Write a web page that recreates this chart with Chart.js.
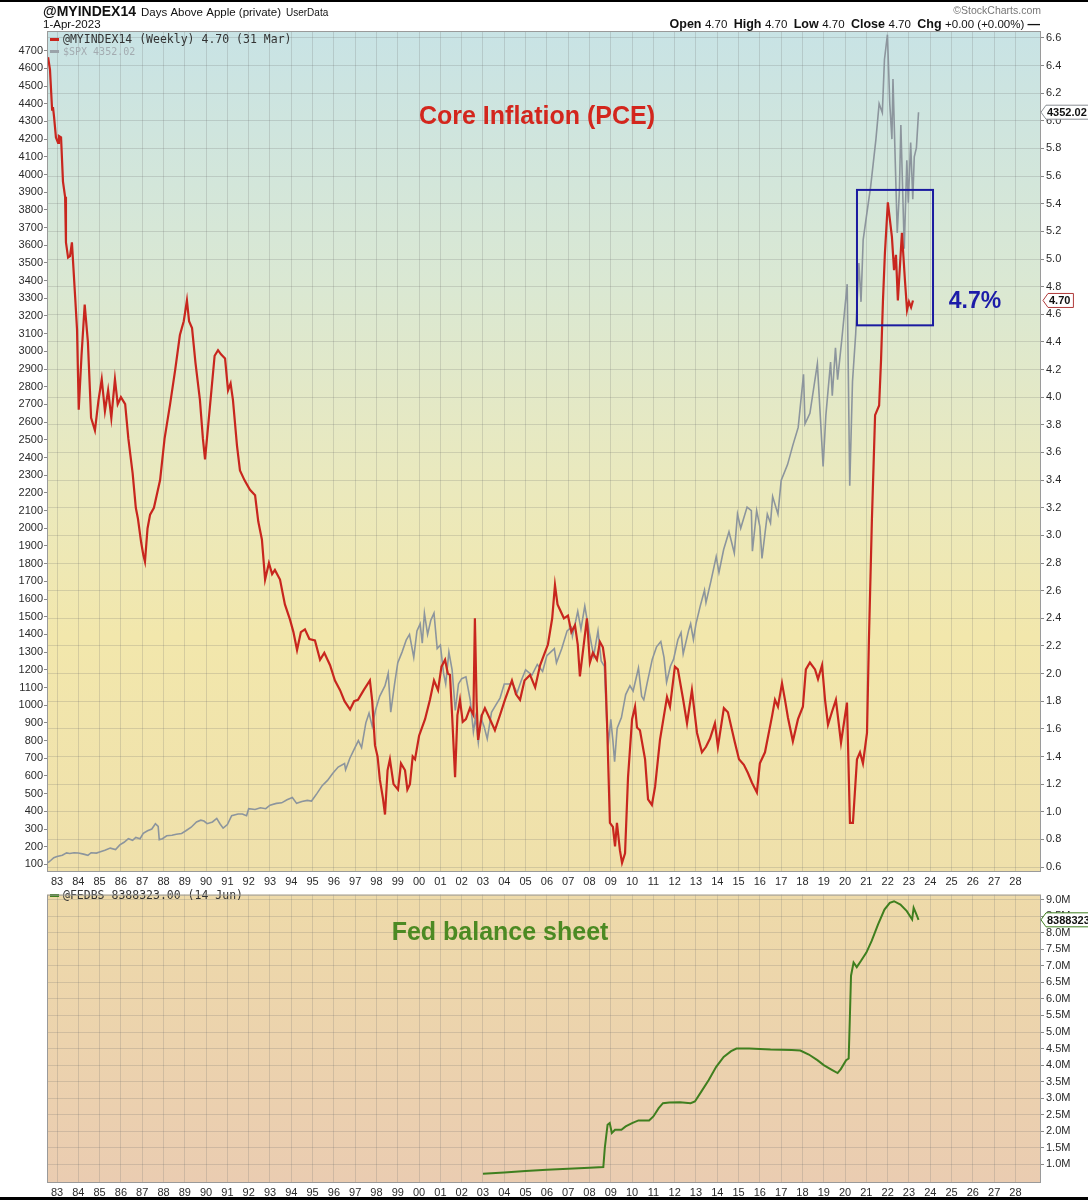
<!DOCTYPE html>
<html>
<head>
<meta charset="utf-8">
<script src="https://cdn.jsdelivr.net/npm/chart.js@4.4.1/dist/chart.umd.min.js"></script>
<style>
  body { margin: 0; background: #fff; width: 1088px; height: 1200px; position: relative; overflow: hidden; }
  canvas { position: absolute; left: 0; }
  #topo { top: 0; }
  #baixo { top: 886px; }
  .barra { position: absolute; left: 0; width: 1088px; background: #000; }
</style>
</head>
<body>
<canvas id="topo" width="1088" height="886"></canvas>
<canvas id="baixo" width="1088" height="314"></canvas>
<div class="barra" style="top:0;height:2px"></div>
<div class="barra" style="top:1197px;height:3px"></div>
<script>
// rotulos do eixo x (ano 1983 em diante)
var rotulosAnos = ['83','84','85','86','87','88','89','90','91','92','93','94','95','96','97','98','99','00',
  '01','02','03','04','05','06','07','08','09','10','11','12','13','14','15','16','17','18','19','20',
  '21','22','23','24','25','26','27','28'];

var ticksSpx = [100,200,300,400,500,600,700,800,900,1000,1100,1200,1300,1400,1500,1600,1700,1800,1900,2000,
  2100,2200,2300,2400,2500,2600,2700,2800,2900,3000,3100,3200,3300,3400,3500,3600,3700,3800,3900,4000,
  4100,4200,4300,4400,4500,4600,4700];
var ticksInflacao = [0.6,0.8,1.0,1.2,1.4,1.6,1.8,2.0,2.2,2.4,2.6,2.8,3.0,3.2,3.4,3.6,3.8,4.0,4.2,4.4,4.6,
  4.8,5.0,5.2,5.4,5.6,5.8,6.0,6.2,6.4,6.6];
var ticksFed = [1.0,1.5,2.0,2.5,3.0,3.5,4.0,4.5,5.0,5.5,6.0,6.5,7.0,7.5,8.0,8.5,9.0];

// @MYINDEX14 (core PCE) - [ano, valor]
var inflacao = [
  [1982.58,6.46],[1982.67,6.37],[1982.77,6.08],[1982.81,6.10],[1982.86,6.03],[1982.95,5.88],[1983.05,5.84],
  [1983.09,5.89],[1983.19,5.88],[1983.28,5.56],[1983.38,5.45],[1983.42,5.12],[1983.52,5.01],[1983.61,5.02],
  [1983.70,5.12],[1983.85,4.73],[1983.94,4.49],[1984.02,3.91],[1984.15,4.30],[1984.30,4.67],[1984.45,4.40],
  [1984.60,3.85],[1984.78,3.76],[1984.95,3.98],[1985.10,4.13],[1985.25,3.90],[1985.40,4.05],[1985.55,3.85],
  [1985.72,4.13],[1985.85,3.95],[1986.00,4.00],[1986.20,3.95],[1986.35,3.70],[1986.55,3.45],[1986.70,3.20],
  [1986.80,3.12],[1986.95,2.95],[1987.05,2.86],[1987.13,2.81],[1987.25,3.05],[1987.37,3.15],[1987.55,3.20],
  [1987.84,3.40],[1988.05,3.70],[1988.31,3.95],[1988.55,4.20],[1988.77,4.45],[1988.95,4.55],[1989.10,4.70],
  [1989.20,4.55],[1989.34,4.50],[1989.50,4.25],[1989.71,3.98],[1989.85,3.70],[1989.95,3.55],[1990.10,3.80],
  [1990.25,4.05],[1990.40,4.30],[1990.56,4.34],[1990.70,4.31],[1990.89,4.28],[1991.03,4.05],[1991.15,4.10],
  [1991.26,3.98],[1991.45,3.65],[1991.59,3.47],[1991.80,3.40],[1992.06,3.33],[1992.30,3.29],[1992.45,3.10],
  [1992.62,2.97],[1992.77,2.68],[1992.95,2.80],[1993.10,2.72],[1993.23,2.75],[1993.47,2.68],[1993.70,2.50],
  [1993.94,2.39],[1994.10,2.30],[1994.27,2.17],[1994.45,2.30],[1994.64,2.32],[1994.85,2.25],[1995.11,2.24],
  [1995.35,2.10],[1995.55,2.15],[1995.82,2.06],[1996.05,1.95],[1996.29,1.88],[1996.50,1.80],[1996.76,1.74],
  [1996.95,1.80],[1997.13,1.81],[1997.40,1.88],[1997.69,1.95],[1997.80,1.80],[1997.93,1.48],[1998.05,1.40],
  [1998.16,1.23],[1998.30,1.10],[1998.40,0.98],[1998.52,1.30],[1998.63,1.38],[1998.80,1.20],[1999.01,1.16],
  [1999.15,1.35],[1999.34,1.30],[1999.45,1.16],[1999.57,1.20],[1999.70,1.40],[1999.81,1.38],[2000.00,1.55],
  [2000.28,1.67],[2000.51,1.81],[2000.70,1.95],[2000.89,1.88],[2001.05,2.05],[2001.22,2.10],[2001.35,2.00],
  [2001.45,1.99],[2001.55,1.70],[2001.69,1.25],[2001.80,1.70],[2001.92,1.81],[2002.05,1.65],[2002.20,1.67],
  [2002.39,1.75],[2002.55,1.70],[2002.62,2.40],[2002.70,1.80],[2002.77,1.52],[2002.95,1.70],[2003.09,1.75],
  [2003.33,1.67],[2003.56,1.59],[2003.80,1.70],[2004.03,1.81],[2004.36,1.95],[2004.55,1.85],[2004.74,1.81],
  [2004.95,1.95],[2005.21,1.99],[2005.45,1.90],[2005.68,2.06],[2005.90,2.15],[2006.05,2.21],[2006.25,2.40],
  [2006.38,2.64],[2006.50,2.50],[2006.62,2.46],[2006.80,2.40],[2006.99,2.42],[2007.15,2.30],[2007.32,2.35],
  [2007.45,2.21],[2007.55,1.98],[2007.88,2.40],[2008.02,2.08],[2008.16,2.15],[2008.35,2.10],[2008.49,2.23],
  [2008.63,2.19],[2008.73,2.08],[2008.82,1.67],[2008.96,0.92],[2009.10,0.89],[2009.20,0.75],[2009.29,0.92],
  [2009.43,0.72],[2009.53,0.63],[2009.67,0.70],[2009.81,1.25],[2010.00,1.67],[2010.14,1.76],[2010.23,1.61],
  [2010.37,1.59],[2010.61,1.38],[2010.75,1.09],[2010.93,1.05],[2011.08,1.18],[2011.31,1.52],[2011.64,1.83],
  [2011.78,1.76],[2012.01,2.05],[2012.15,2.03],[2012.39,1.82],[2012.58,1.64],[2012.81,1.88],[2013.05,1.57],
  [2013.28,1.43],[2013.47,1.47],[2013.66,1.53],[2013.89,1.64],[2014.03,1.47],[2014.31,1.75],[2014.50,1.72],
  [2014.83,1.50],[2015.02,1.38],[2015.25,1.34],[2015.44,1.28],[2015.63,1.21],[2015.86,1.14],[2016.00,1.35],
  [2016.24,1.43],[2016.57,1.69],[2016.71,1.81],[2016.85,1.76],[2017.04,1.93],[2017.18,1.81],[2017.32,1.68],
  [2017.55,1.51],[2017.79,1.67],[2018.02,1.76],[2018.16,2.03],[2018.35,2.08],[2018.59,2.03],[2018.73,1.96],
  [2018.92,2.06],[2019.06,1.81],[2019.20,1.63],[2019.38,1.72],[2019.57,1.81],[2019.81,1.50],[2020.09,1.79],
  [2020.23,0.92],[2020.37,0.92],[2020.56,1.38],[2020.70,1.43],[2020.84,1.35],[2021.03,1.57],[2021.12,2.24],
  [2021.26,3.11],[2021.41,3.87],[2021.60,3.94],[2021.69,4.27],[2021.78,4.70],[2021.87,5.04],[2022.01,5.41],
  [2022.20,5.16],[2022.30,4.92],[2022.39,5.03],[2022.48,4.70],[2022.67,5.19],[2022.81,4.85],[2022.91,4.63],
  [2023.00,4.69],[2023.10,4.65],[2023.19,4.70]
];

// $SPX
var spx = [
  [1982.58,110],[1982.70,122],[1982.85,138],[1983.00,145],[1983.25,152],[1983.45,165],[1983.60,162],[1983.80,166],
  [1984.00,164],[1984.25,158],[1984.45,151],[1984.60,166],[1984.85,164],[1985.00,170],[1985.25,180],[1985.50,192],
  [1985.75,184],[1985.95,210],[1986.15,225],[1986.35,245],[1986.55,236],[1986.70,252],[1986.90,245],[1987.05,275],
  [1987.25,290],[1987.45,300],[1987.62,330],[1987.75,315],[1987.80,240],[1987.95,245],[1988.15,262],[1988.40,265],
  [1988.60,270],[1988.85,275],[1989.05,290],[1989.30,310],[1989.55,340],[1989.75,350],[1989.90,345],[1990.05,330],
  [1990.30,340],[1990.50,360],[1990.65,330],[1990.80,305],[1991.00,325],[1991.20,375],[1991.50,385],[1991.70,385],
  [1991.90,375],[1992.00,415],[1992.30,410],[1992.55,420],[1992.80,415],[1993.00,435],[1993.30,445],[1993.55,448],
  [1993.80,465],[1994.05,478],[1994.25,445],[1994.50,455],[1994.75,462],[1994.95,458],[1995.20,500],[1995.45,545],
  [1995.70,575],[1995.95,615],[1996.20,650],[1996.50,670],[1996.55,635],[1996.75,700],[1996.95,750],[1997.15,800],
  [1997.30,760],[1997.50,900],[1997.65,955],[1997.80,880],[1997.95,970],[1998.15,1050],[1998.40,1110],[1998.55,1180],
  [1998.67,960],[1998.85,1120],[1999.00,1240],[1999.20,1300],[1999.40,1370],[1999.55,1400],[1999.75,1270],
  [1999.90,1420],[2000.05,1460],[2000.15,1350],[2000.25,1520],[2000.40,1400],[2000.55,1480],[2000.70,1520],
  [2000.85,1320],[2001.00,1340],[2001.15,1180],[2001.25,1120],[2001.40,1300],[2001.55,1200],[2001.70,970],
  [2001.85,1120],[2002.00,1150],[2002.20,1160],[2002.40,1030],[2002.55,850],[2002.65,930],[2002.78,790],
  [2002.90,930],[2003.05,880],[2003.20,810],[2003.40,960],[2003.60,1000],[2003.80,1040],[2004.00,1120],
  [2004.20,1120],[2004.40,1120],[2004.60,1070],[2004.80,1140],[2005.00,1200],[2005.30,1170],[2005.55,1230],
  [2005.80,1190],[2006.00,1280],[2006.35,1320],[2006.45,1240],[2006.70,1320],[2006.95,1420],[2007.15,1440],
  [2007.20,1390],[2007.45,1530],[2007.60,1430],[2007.78,1560],[2007.95,1440],[2008.10,1340],[2008.20,1280],
  [2008.40,1420],[2008.55,1250],[2008.70,1220],[2008.82,880],[2008.90,800],[2009.00,920],[2009.10,800],
  [2009.18,680],[2009.30,870],[2009.50,930],[2009.70,1060],[2009.90,1110],[2010.05,1080],[2010.30,1210],
  [2010.45,1050],[2010.55,1030],[2010.70,1120],[2010.95,1260],[2011.15,1330],[2011.35,1360],[2011.50,1270],
  [2011.62,1130],[2011.80,1220],[2011.95,1260],[2012.15,1370],[2012.30,1410],[2012.40,1290],[2012.65,1420],
  [2012.75,1460],[2012.88,1370],[2013.00,1460],[2013.20,1560],[2013.40,1650],[2013.47,1580],[2013.70,1700],
  [2013.95,1840],[2014.08,1750],[2014.30,1880],[2014.55,1980],[2014.80,1860],[2014.95,2080],[2015.10,2000],
  [2015.40,2120],[2015.60,2100],[2015.65,1870],[2015.85,2100],[2016.00,2010],[2016.10,1830],[2016.35,2080],
  [2016.50,2030],[2016.60,2180],[2016.85,2080],[2017.00,2270],[2017.30,2360],[2017.55,2470],[2017.80,2570],
  [2018.05,2870],[2018.12,2590],[2018.35,2650],[2018.70,2930],[2018.97,2350],[2019.10,2640],[2019.32,2940],
  [2019.40,2750],[2019.55,3020],[2019.65,2840],[2019.85,3070],[2020.10,3380],[2020.22,2240],[2020.35,2830],
  [2020.50,3100],[2020.65,3500],[2020.75,3280],[2020.85,3630],[2021.00,3760],[2021.20,3930],[2021.45,4200],
  [2021.60,4400],[2021.75,4350],[2021.85,4650],[2021.99,4790],[2022.10,4400],[2022.20,4200],[2022.25,4540],
  [2022.45,3670],[2022.55,3900],[2022.62,4280],[2022.78,3580],[2022.90,4080],[2022.97,3840],[2023.08,4180],
  [2023.18,3860],[2023.25,4100],[2023.35,4150],[2023.45,4352]
];

// @FEDBS em milhoes (M)
var fed = [
  [2003.00,0.72],[2004.00,0.76],[2005.00,0.80],[2006.00,0.84],[2007.00,0.87],[2008.00,0.90],[2008.65,0.92],
  [2008.72,1.50],[2008.85,2.20],[2008.95,2.25],[2009.05,1.95],[2009.20,2.05],[2009.50,2.05],[2009.70,2.15],
  [2010.00,2.25],[2010.30,2.33],[2010.80,2.33],[2011.00,2.45],[2011.25,2.70],[2011.45,2.85],[2011.75,2.87],
  [2012.25,2.88],[2012.75,2.85],[2012.95,2.90],[2013.25,3.20],[2013.60,3.55],[2013.95,3.95],[2014.30,4.25],
  [2014.65,4.42],[2014.90,4.50],[2015.50,4.50],[2016.50,4.47],[2017.50,4.46],[2017.90,4.44],[2018.30,4.32],
  [2018.70,4.15],[2019.00,4.00],[2019.40,3.85],[2019.65,3.76],[2019.80,3.88],[2020.05,4.15],[2020.17,4.20],
  [2020.22,5.30],[2020.28,6.70],[2020.40,7.10],[2020.55,6.96],[2020.75,7.15],[2021.00,7.40],[2021.25,7.75],
  [2021.55,8.25],[2021.85,8.70],[2022.10,8.90],[2022.30,8.95],[2022.60,8.85],[2022.90,8.65],[2023.15,8.40],
  [2023.22,8.75],[2023.35,8.55],[2023.45,8.39]
];

// caixa azul em volta do pico recente (unidades de dados)
var caixaDestaque = { x0: 2020.56, x1: 2024.13, y0: 4.52, y1: 5.50 };

var fonte = '"Liberation Sans", Arial, sans-serif';
var mono = '"DejaVu Sans Mono", monospace';
var corGrade = 'rgba(110,110,110,0.22)';

Chart.defaults.font.family = fonte;
Chart.defaults.font.size = 11;
Chart.defaults.color = '#2a2a2a';

function pontos(lista) {
  return lista.map(function (p) { return { x: p[0], y: p[1] }; });
}

function eixoAnos(altura) {
  return {
    type: 'linear', min: 1982.53, max: 2029.2,
    afterBuildTicks: function (s) {
      s.ticks = rotulosAnos.map(function (r, i) { return { value: 1983 + i }; });
    },
    afterFit: function (s) { s.height = altura; },
    grid: { color: corGrade, drawTicks: false },
    border: { display: false },
    ticks: {
      autoSkip: false, maxRotation: 0, padding: 3,
      callback: function (v, i) { return rotulosAnos[i]; }
    }
  };
}

function fundo(ctx, area, cores) {
  var g = ctx.createLinearGradient(0, area.top, 0, area.bottom);
  cores.forEach(function (c) { g.addColorStop(c[0], c[1]); });
  ctx.fillStyle = g;
  ctx.fillRect(area.left, area.top, area.right - area.left, area.bottom - area.top);
}

function moldura(ctx, area) {
  ctx.strokeStyle = '#9a9a9a';
  ctx.lineWidth = 1;
  ctx.strokeRect(area.left + 0.5, area.top + 0.5, area.right - area.left - 1, area.bottom - area.top - 1);
}

function caixaValor(ctx, x0, y, texto, borda) {
  ctx.font = 'bold 11px ' + fonte;
  var w = ctx.measureText(texto).width;
  var x1 = x0 + 7 + w + 2;
  ctx.beginPath();
  ctx.moveTo(x0, y);
  ctx.lineTo(x0 + 5, y - 7);
  ctx.lineTo(x1, y - 7);
  ctx.lineTo(x1, y + 7);
  ctx.lineTo(x0 + 5, y + 7);
  ctx.closePath();
  ctx.fillStyle = '#fff';
  ctx.fill();
  ctx.strokeStyle = borda;
  ctx.lineWidth = 1;
  ctx.stroke();
  ctx.fillStyle = '#111';
  ctx.textBaseline = 'middle';
  ctx.textAlign = 'left';
  ctx.fillText(texto, x0 + 6, y + 1);
}

function legenda(ctx, x, y, cor, texto, corTexto, tamanho) {
  ctx.fillStyle = cor;
  ctx.fillRect(x, y - 5, 9, 3);
  ctx.fillStyle = corTexto;
  ctx.font = tamanho + 'px ' + mono;
  ctx.textBaseline = 'alphabetic';
  ctx.textAlign = 'left';
  ctx.fillText(texto, x + 13, y);
}

var pluginTopo = {
  id: 'pluginTopo',
  beforeDraw: function (chart) {
    var ctx = chart.ctx;
    ctx.save();
    fundo(ctx, chart.chartArea, [[0, '#c8e3e5'], [0.3, '#dae8d3'], [0.55, '#ebe9bc'], [0.72, '#f2e7ac'], [1, '#efe0ab']]);
    ctx.restore();
  },
  afterDatasetsDraw: function (chart) {
    var ctx = chart.ctx;
    var sx = chart.scales.x, sy = chart.scales.yR;
    ctx.save();
    // caixa azul
    var bx0 = sx.getPixelForValue(caixaDestaque.x0), bx1 = sx.getPixelForValue(caixaDestaque.x1);
    var by0 = sy.getPixelForValue(caixaDestaque.y1), by1 = sy.getPixelForValue(caixaDestaque.y0);
    ctx.strokeStyle = '#1b1ba0';
    ctx.lineWidth = 2;
    ctx.strokeRect(bx0, by0, bx1 - bx0, by1 - by0);

    ctx.textBaseline = 'alphabetic';
    ctx.textAlign = 'center';
    ctx.fillStyle = '#d3261d';
    ctx.font = 'bold 25px ' + fonte;
    ctx.fillText('Core Inflation (PCE)', 537, 124);

    ctx.fillStyle = '#1c1ca8';
    ctx.font = 'bold 23px ' + fonte;
    ctx.fillText('4.7%', 975, 308);

    legenda(ctx, 50, 43, '#c8261e', '@MYINDEX14 (Weekly) 4.70 (31 Mar)', '#333', 11.5);
    legenda(ctx, 50, 55, '#9aa3aa', '$SPX 4352.02', '#a3abb0', 10);
    ctx.restore();
  },
  afterDraw: function (chart) {
    var ctx = chart.ctx;
    ctx.save();
    moldura(ctx, chart.chartArea);

    // cabecalho
    ctx.textBaseline = 'alphabetic';
    ctx.textAlign = 'left';
    ctx.fillStyle = '#111';
    ctx.font = 'bold 14px ' + fonte;
    ctx.fillText('@MYINDEX14', 43, 16);
    var x = 43 + ctx.measureText('@MYINDEX14').width + 5;
    ctx.font = '11.5px ' + fonte;
    ctx.fillText('Days Above Apple (private)', x, 16);
    x += ctx.measureText('Days Above Apple (private)').width + 5;
    ctx.font = '10px ' + fonte;
    ctx.fillText('UserData', x, 16);
    ctx.font = '11.5px ' + fonte;
    ctx.fillText('1-Apr-2023', 43, 28);

    ctx.textAlign = 'right';
    ctx.fillStyle = '#777';
    ctx.font = '10.5px ' + fonte;
    ctx.fillText('\u00A9StockCharts.com', 1041, 14);

    var partes = [['Open ', 1], ['4.70  ', 0], ['High ', 1], ['4.70  ', 0], ['Low ', 1], ['4.70  ', 0],
      ['Close ', 1], ['4.70  ', 0], ['Chg ', 1], ['+0.00 (+0.00%) ', 0], ['\u2014', 1]];
    var total = 0;
    partes.forEach(function (p) {
      ctx.font = (p[1] ? 'bold 12.5px ' : '11.5px ') + fonte;
      total += ctx.measureText(p[0]).width;
    });
    ctx.textAlign = 'left';
    ctx.fillStyle = '#111';
    var px = 1040 - total;
    partes.forEach(function (p) {
      ctx.font = (p[1] ? 'bold 12.5px ' : '11.5px ') + fonte;
      ctx.fillText(p[0], px, 28);
      px += ctx.measureText(p[0]).width;
    });

    caixaValor(ctx, 1041, chart.scales.yL.getPixelForValue(4352.02), '4352.02', '#8a8f94');
    caixaValor(ctx, 1043, chart.scales.yR.getPixelForValue(4.70), '4.70', '#b03a3a');
    ctx.restore();
  }
};

var pluginBaixo = {
  id: 'pluginBaixo',
  beforeDraw: function (chart) {
    var ctx = chart.ctx;
    ctx.save();
    fundo(ctx, chart.chartArea, [[0, '#eedaa9'], [1, '#eaccb1']]);
    ctx.restore();
  },
  afterDatasetsDraw: function (chart) {
    var ctx = chart.ctx;
    ctx.save();
    ctx.textBaseline = 'alphabetic';
    ctx.textAlign = 'center';
    ctx.fillStyle = '#4c8a23';
    ctx.font = 'bold 25px ' + fonte;
    ctx.fillText('Fed balance sheet', 500, 54);
    legenda(ctx, 50, 13, '#3f7f1f', '@FEDBS 8388323.00 (14 Jun)', '#333', 11.5);
    ctx.restore();
  },
  afterDraw: function (chart) {
    var ctx = chart.ctx;
    ctx.save();
    moldura(ctx, chart.chartArea);
    caixaValor(ctx, 1041, chart.scales.yF.getPixelForValue(8.388323), '8388323', '#3f7f1f');
    ctx.restore();
  }
};

new Chart(document.getElementById('topo'), {
  type: 'line',
  data: {
    datasets: [{
      label: '@MYINDEX14',
      data: pontos(inflacao),
      yAxisID: 'yR',
      borderColor: '#c8261e',
      borderWidth: 2.2,
      pointRadius: 0,
      tension: 0,
      order: 0
    }, {
      label: '$SPX',
      data: pontos(spx),
      yAxisID: 'yL',
      borderColor: '#8c959d',
      borderWidth: 1.6,
      pointRadius: 0,
      tension: 0,
      order: 1
    }]
  },
  options: {
    responsive: false,
    animation: false,
    events: [],
    layout: { padding: { top: 31, left: 0, right: 0, bottom: 0 } },
    plugins: { legend: { display: false }, tooltip: { enabled: false } },
    scales: {
      x: eixoAnos(14),
      yL: {
        type: 'linear', position: 'left', min: 57, max: 4811,
        afterBuildTicks: function (s) { s.ticks = ticksSpx.map(function (v) { return { value: v }; }); },
        afterFit: function (s) { s.width = 47; },
        grid: { drawOnChartArea: false, tickLength: 3, color: '#888' },
        border: { display: false },
        ticks: { padding: 1, callback: function (v) { return String(v); } }
      },
      yR: {
        type: 'linear', position: 'right', min: 0.564, max: 6.65,
        afterBuildTicks: function (s) { s.ticks = ticksInflacao.map(function (v) { return { value: v }; }); },
        afterFit: function (s) { s.width = 47; },
        grid: { color: corGrade, tickLength: 3, tickColor: '#888' },
        border: { display: false },
        ticks: { padding: 2, callback: function (v) { return v.toFixed(1); } }
      }
    }
  },
  plugins: [pluginTopo]
});

new Chart(document.getElementById('baixo'), {
  type: 'line',
  data: {
    datasets: [{
      label: '@FEDBS',
      data: pontos(fed),
      yAxisID: 'yF',
      borderColor: '#3f7f1f',
      borderWidth: 2,
      pointRadius: 0,
      tension: 0
    }]
  },
  options: {
    responsive: false,
    animation: false,
    events: [],
    layout: { padding: { top: 2, left: 47, right: 0, bottom: 0 } },
    plugins: { legend: { display: false }, tooltip: { enabled: false } },
    scales: {
      x: eixoAnos(17),
      yF: {
        type: 'linear', position: 'right', min: 0.44, max: 9.15,
        afterBuildTicks: function (s) { s.ticks = ticksFed.map(function (v) { return { value: v }; }); },
        afterFit: function (s) { s.width = 47; },
        grid: { color: corGrade, tickLength: 3, tickColor: '#888' },
        border: { display: false },
        ticks: { padding: 2, callback: function (v) { return v.toFixed(1) + 'M'; } }
      }
    }
  },
  plugins: [pluginBaixo]
});
</script>
</body>
</html>
